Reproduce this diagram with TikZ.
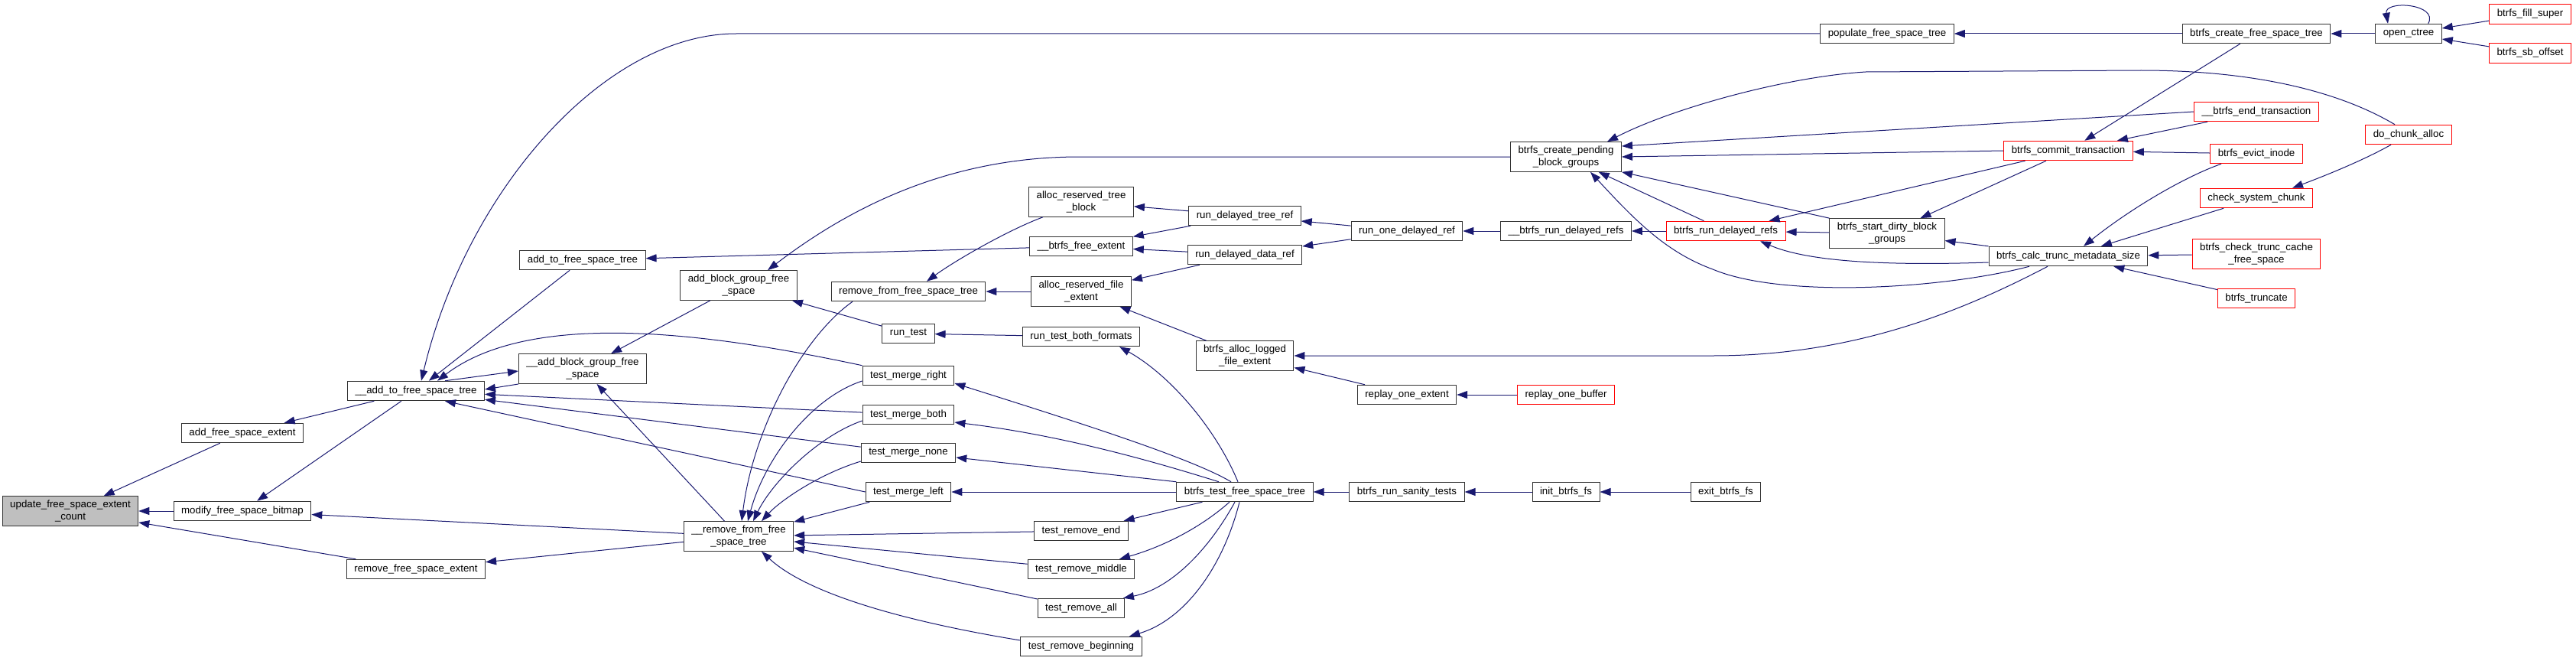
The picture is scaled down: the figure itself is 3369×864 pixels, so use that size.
\documentclass[tikz,border=0pt]{standalone}
\usepackage{fontspec}
\setmainfont{Liberation Sans}
\usetikzlibrary{arrows.meta}
\definecolor{edgeblue}{RGB}{25,25,112}
\definecolor{selfgray}{RGB}{191,191,191}
\tikzset{
  fn/.style={draw=black!80, fill=white, line width=1pt, minimum height=25.5pt, inner xsep=10pt, inner ysep=5.5pt, align=center},
  trunc/.style={fn, draw=red},
  self/.style={fn, fill=selfgray},
  call/.style={-{Triangle[length=14pt,width=10pt]}, draw=edgeblue, line width=1pt}
}
\begin{document}
\begin{tikzpicture}[x=1pt, y=-1pt, font=\fontsize{13.3}{15.3}\selectfont]
  \useasboundingbox (0,0) rectangle (3369,864);

  \node[self] (update) at (92,668) {update\_free\_space\_extent\\\_count};
  \node[fn] (addext) at (317,566) {add\_free\_space\_extent};
  \node[fn] (modify) at (317,668) {modify\_free\_space\_bitmap};
  \node[fn] (uaddtree) at (544,511) {\_\_add\_to\_free\_space\_tree};
  \node[fn] (rmext) at (544,744) {remove\_free\_space\_extent};
  \node[fn] (addtree) at (762,340) {add\_to\_free\_space\_tree};
  \node[fn] (uaddbg) at (762,482) {\_\_add\_block\_group\_free\\\_space};
  \node[fn] (addbg) at (966,373) {add\_block\_group\_free\\\_space};
  \node[fn] (urmtree) at (966,701) {\_\_remove\_from\_free\\\_space\_tree};
  \node[fn] (rmtree) at (1188,381) {remove\_from\_free\_space\_tree};
  \node[fn] (runtest) at (1188,436) {run\_test};
  \node[fn] (mright) at (1188,491) {test\_merge\_right};
  \node[fn] (mboth) at (1188,542) {test\_merge\_both};
  \node[fn] (mnone) at (1188,592) {test\_merge\_none};
  \node[fn] (mleft) at (1188,643) {test\_merge\_left};
  \node[fn] (treeblock) at (1414,264) {alloc\_reserved\_tree\\\_block};
  \node[fn] (ufree) at (1414,322) {\_\_btrfs\_free\_extent};
  \node[fn] (fileext) at (1414,381) {alloc\_reserved\_file\\\_extent};
  \node[fn] (formats) at (1414,440) {run\_test\_both\_formats};
  \node[fn] (rend) at (1414,694) {test\_remove\_end};
  \node[fn] (rmid) at (1414,744) {test\_remove\_middle};
  \node[fn] (rall) at (1414,795) {test\_remove\_all};
  \node[fn] (rbegin) at (1414,845) {test\_remove\_beginning};
  \node[fn] (treeref) at (1628,282) {run\_delayed\_tree\_ref};
  \node[fn] (dataref) at (1628,333) {run\_delayed\_data\_ref};
  \node[fn] (logged) at (1628,465) {btrfs\_alloc\_logged\\\_file\_extent};
  \node[fn] (fsttest) at (1628,643) {btrfs\_test\_free\_space\_tree};
  \node[fn] (runone) at (1840,302) {run\_one\_delayed\_ref};
  \node[fn] (replayext) at (1840,516) {replay\_one\_extent};
  \node[fn] (sanity) at (1840,643) {btrfs\_run\_sanity\_tests};
  \node[fn] (pending) at (2048,205) {btrfs\_create\_pending\\\_block\_groups};
  \node[fn] (urunrefs) at (2048,302) {\_\_btrfs\_run\_delayed\_refs};
  \node[trunc] (replaybuf) at (2048,516) {replay\_one\_buffer};
  \node[fn] (initfs) at (2048,643) {init\_btrfs\_fs};
  \node[trunc] (runrefs) at (2257,302) {btrfs\_run\_delayed\_refs};
  \node[fn] (exitfs) at (2257,643) {exit\_btrfs\_fs};
  \node[fn] (populate) at (2468,44) {populate\_free\_space\_tree};
  \node[fn] (dirty) at (2468,305) {btrfs\_start\_dirty\_block\\\_groups};
  \node[trunc] (commit) at (2705,197) {btrfs\_commit\_transaction};
  \node[fn] (calc) at (2705,335) {btrfs\_calc\_trunc\_metadata\_size};
  \node[fn] (createfst) at (2951,44) {btrfs\_create\_free\_space\_tree};
  \node[trunc] (uend) at (2951,146) {\_\_btrfs\_end\_transaction};
  \node[trunc] (evict) at (2951,201) {btrfs\_evict\_inode};
  \node[trunc] (syschunk) at (2951,259) {check\_system\_chunk};
  \node[trunc] (cache) at (2951,332) {btrfs\_check\_trunc\_cache\\\_free\_space};
  \node[trunc] (truncate) at (2951,390) {btrfs\_truncate};
  \node[fn] (openctree) at (3150,44) {open\_ctree};
  \node[trunc] (chunk) at (3150,176) {do\_chunk\_alloc};
  \node[trunc] (fillsuper) at (3309,18.5) {btrfs\_fill\_super};
  \node[trunc] (sboffset) at (3309,69.5) {btrfs\_sb\_offset};

  \draw[call] (addext) -- (update);
  \draw[call] (modify) -- (update);
  \draw[call] (rmext) -- (update);
  \draw[call] (uaddtree) -- (addext);
  \draw[call] (uaddtree) -- (modify);
  \draw[call] (urmtree) -- (modify);
  \draw[call] (urmtree) -- (rmext);
  \draw[call] (addtree) -- (uaddtree);
  \draw[call] (populate.west) -- (963,44) .. controls (790,44) and (610,250) .. ([xshift=7pt]uaddtree.north);
  \draw[call] ([xshift=38pt]uaddtree.north) -- ([yshift=-3pt]uaddbg.west);
  \draw[call] ([yshift=-20pt]uaddbg.west) -- ([yshift=2pt]uaddtree.east);
  \draw[call] (mright.north west) .. controls (950,440) and (700,400) .. ([xshift=28pt]uaddtree.north);
  \draw[call] (mboth) -- (uaddtree);
  \draw[call] (mnone) -- (uaddtree);
  \draw[call] (mleft.west) -- ([xshift=38pt]uaddtree.south);
  \draw[call] ([xshift=-73pt]rmtree.south) .. controls (1050,440) and (985,560) .. ([xshift=4pt]urmtree.north);
  \draw[call] ([yshift=-7pt]mright.west) .. controls (1060,520) and (1000,600) .. ([xshift=12pt]urmtree.north);
  \draw[call] ([yshift=-8pt]mboth.west) .. controls (1070,570) and (1010,630) .. ([xshift=19pt]urmtree.north);
  \draw[call] ([yshift=-11pt]mnone.west) .. controls (1070,620) and (1020,655) .. ([xshift=30pt]urmtree.north);
  \draw[call] (mleft) -- (urmtree);
  \draw[call] (rend) -- (urmtree);
  \draw[call] (rmid) -- (urmtree);
  \draw[call] (rall) -- (urmtree);
  \draw[call] ([yshift=8pt]rbegin.west) .. controls (1200,815) and (1060,780) .. ([xshift=30pt]urmtree.south);
  \draw[call] (addbg) -- (uaddbg);
  \draw[call] (urmtree) -- (uaddbg);
  \draw[call] (ufree) -- (addtree);
  \draw[call] (pending.west) -- (1412,205) .. controls (1230,205) and (1100,280) .. ([xshift=38pt]addbg.north);
  \draw[call] (runtest) -- (addbg);
  \draw[call] ([xshift=-50pt]treeblock.south) .. controls (1320,300) and (1250,340) .. ([xshift=24pt]rmtree.north);
  \draw[call] (fileext) -- (rmtree);
  \draw[call] (formats) -- (runtest);
  \draw[call] (treeref) -- (treeblock);
  \draw[call] (treeref) -- (ufree);
  \draw[call] (dataref) -- (ufree);
  \draw[call] (dataref) -- (fileext);
  \draw[call] (logged) -- (fileext);
  \draw[call] ([xshift=-9pt]fsttest.north) .. controls (1590,560) and (1530,490) .. ([xshift=50pt]formats.south);
  \draw[call] ([xshift=-18pt]fsttest.north) .. controls (1560,600) and (1420,555) .. ([yshift=-10pt]mright.east);
  \draw[call] ([xshift=-34pt]fsttest.north) .. controls (1530,610) and (1400,570) .. ([yshift=-10pt]mboth.east);
  \draw[call] (fsttest.north west) -- ([yshift=-6pt]mnone.east);
  \draw[call] (fsttest) -- (mleft);
  \draw[call] (fsttest) -- (rend);
  \draw[call] ([xshift=-20pt]fsttest.south) .. controls (1570,690) and (1520,715) .. ([xshift=50pt]rmid.north);
  \draw[call] ([xshift=-13pt]fsttest.south) .. controls (1580,720) and (1530,770) .. ([xshift=55pt]rall.north);
  \draw[call] ([xshift=-7pt]fsttest.south) .. controls (1600,740) and (1550,810) .. ([xshift=63pt]rbegin.north);
  \draw[call] (runone) -- (treeref);
  \draw[call] (runone) -- (dataref);
  \draw[call] (urunrefs) -- (runone);
  \draw[call] (runrefs) -- (urunrefs);
  \draw[call] (replayext) -- (logged);
  \draw[call] (replaybuf) -- (replayext);
  \draw[call] ([xshift=-27pt]calc.south) .. controls (2560,410) and (2420,465) .. (2240,465) -- (logged.east);
  \draw[call] (sanity) -- (fsttest);
  \draw[call] (initfs) -- (sanity);
  \draw[call] (exitfs) -- (initfs);
  \draw[call] ([xshift=-18pt]chunk.north) .. controls (3060,120) and (2950,92) .. (2800,92) -- (2440,94) .. controls (2340,100) and (2190,140) .. ([xshift=54pt]pending.north);
  \draw[call] (uend.west) -- ([yshift=14pt]pending.east);
  \draw[call] (commit.west) -- (pending.east);
  \draw[call] (dirty.north west) -- (pending.south east);
  \draw[call] (runrefs) -- (pending);
  \draw[call] ([xshift=-51pt]calc.south) .. controls (2540,378) and (2330,390) .. (2240,352) .. controls (2180,330) and (2140,290) .. ([xshift=32pt]pending.south);
  \draw[call] (commit) -- (runrefs);
  \draw[call] (dirty) -- (runrefs);
  \draw[call] ([yshift=-8pt]calc.west) .. controls (2450,348) and (2360,340) .. ([xshift=45pt]runrefs.south);
  \draw[call] (commit) -- (dirty);
  \draw[call] (calc) -- (dirty);
  \draw[call] (createfst) -- (commit);
  \draw[call] (uend) -- (commit);
  \draw[call] (evict) -- (commit);
  \draw[call] ([xshift=-46pt]evict.south) .. controls (2860,230) and (2790,270) .. ([xshift=20pt]calc.north);
  \draw[call] (syschunk) -- (calc);
  \draw[call] (cache) -- (calc);
  \draw[call] (truncate) -- (calc);
  \draw[call] ([xshift=-23pt]chunk.south) .. controls (3090,210) and (3040,230) .. ([xshift=47pt]syschunk.north);
  \draw[call] (createfst) -- (populate);
  \draw[call] (openctree) -- (createfst);
  \draw[call] ([xshift=-18pt]openctree.north east) .. controls +(14,-26) and +(-5,-31) .. ([xshift=-27pt]openctree.north);
  \draw[call] (fillsuper) -- (openctree);
  \draw[call] (sboffset) -- (openctree);
\end{tikzpicture}
\end{document}
